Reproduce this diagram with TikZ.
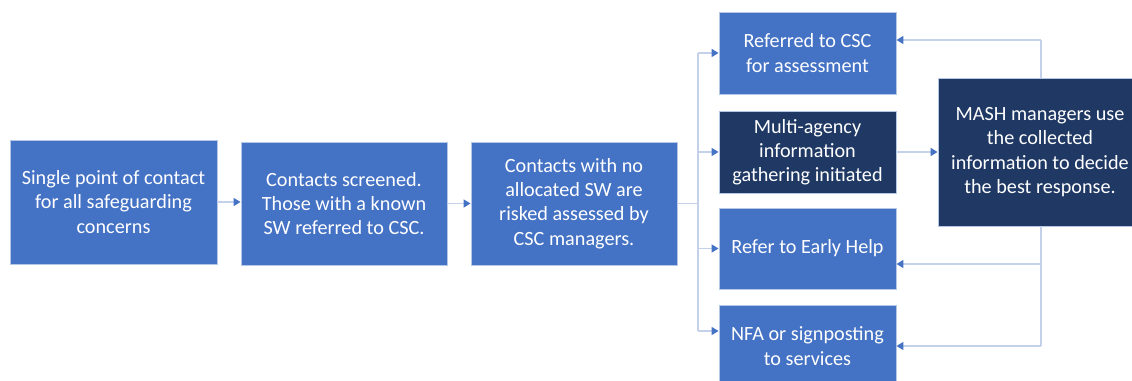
\documentclass[tikz,border=0pt]{standalone}
\usepackage{fontspec}
\setmainfont{Carlito}
\usetikzlibrary{arrows.meta}
\definecolor{midblue}{HTML}{4472C4}
\definecolor{darkblue}{HTML}{1F3864}
\definecolor{boxline}{HTML}{B4C7E7}
\definecolor{linkblue}{HTML}{C3D1EA}
\definecolor{tipblue}{HTML}{4472C4}
\begin{document}
\begin{tikzpicture}[x=0.02cm,y=-0.02cm,
    box/.style={draw=boxline,line width=0.5pt,fill=midblue,text=white,align=center,inner sep=0pt,font=\fontsize{11.5}{13.8}\selectfont},
    darkbox/.style={box,fill=darkblue},
    link/.style={draw=linkblue,line width=1pt,-{Triangle[length=4pt,width=4.5pt,color=tipblue]}},
    plain/.style={draw=linkblue,line width=1pt}]
    \clip (0,0) rectangle (1132,381);
    \node [box,minimum width=4.14cm,minimum height=2.48cm] (single) at (113.5,202) {Single point of contact\\for all safeguarding\\concerns};
    \node [box,minimum width=4.12cm,minimum height=2.46cm] (screen) at (344,203.5) {Contacts screened.\\Those with a known\\SW referred to CSC.};
    \node [box,minimum width=4.12cm,minimum height=2.46cm] (risk) at (574,203.5) {Contacts with no\\allocated SW are\\risked assessed by\\CSC managers.};
    \node [box,minimum width=3.54cm,minimum height=1.64cm] (csc) at (807.5,53) {Referred to CSC\\for assessment};
    \node [darkbox,minimum width=3.54cm,minimum height=1.64cm] (multi) at (807.5,152) {Multi-agency\\information\\gathering initiated};
    \node [box,minimum width=3.54cm,minimum height=1.62cm] (early) at (807.5,248.5) {Refer to Early Help};
    \node [box,minimum width=3.54cm,minimum height=1.64cm] (nfa) at (807.5,346) {NFA or signposting\\to services};
    \node [darkbox,minimum width=4.08cm,minimum height=2.96cm] (mash) at (1040,152) {MASH managers use\\the collected\\information to decide\\the best response.};
    \coordinate (trunktop) at (698,53);
    \coordinate (trunkbot) at (698,331);
    \coordinate (backtop) at (1041,40);
    \coordinate (backmid) at (1041,264);
    \coordinate (backbot) at (1041,346);
    \draw [link] (single.east) -- (single.east -| screen.west);
    \draw [link] (screen.east) -- (screen.east -| risk.west);
    \draw [plain] (risk.east) -- (risk.east -| trunktop);
    \draw [plain] (trunktop) -- (trunkbot);
    \draw [link] (trunktop) -- (csc.west);
    \draw [link] (multi.west -| trunktop) -- (multi.west);
    \draw [link] (early.west -| trunktop) -- (early.west);
    \draw [link] (trunkbot) -- (trunkbot -| nfa.west);
    \draw [link] (multi.east) -- (mash.west);
    \draw [plain] (mash.north -| backtop) -- (backtop);
    \draw [link] (backtop) -- (backtop -| csc.east);
    \draw [plain] (mash.south -| backtop) -- (backbot);
    \draw [link] (backmid) -- (backmid -| early.east);
    \draw [link] (backbot) -- (backbot -| nfa.east);
\end{tikzpicture}
\end{document}
